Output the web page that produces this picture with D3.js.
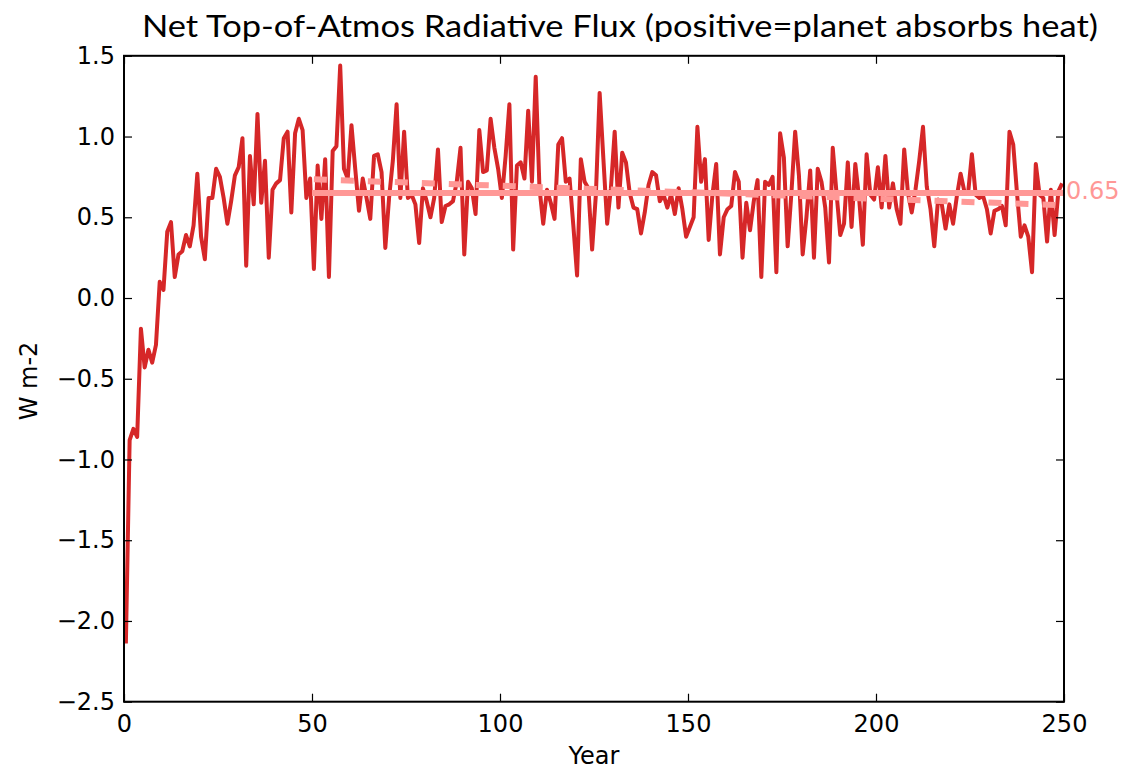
<!DOCTYPE html>
<html>
<head>
<meta charset="utf-8">
<script src="https://cdn.jsdelivr.net/npm/d3@7"></script>
<style>
  body { margin: 0; background: #ffffff; }
  svg { display: block; }
</style>
</head>
<body>
<svg id="chart" width="1123" height="771"></svg>
<script>
// Annual-mean net TOA flux (W m-2), one value per model year
const flux = [
  -2.14, -0.88, -0.81, -0.86, -0.19, -0.43, -0.32, -0.40, -0.29, 0.10,
   0.05,  0.41,  0.47,  0.13,  0.27,  0.29,  0.39,  0.32,  0.45, 0.77,
   0.38,  0.24,  0.62,  0.62,  0.80,  0.75,  0.62,  0.46,  0.60, 0.76,
   0.81,  0.99,  0.20,  0.88,  0.58,  1.14,  0.59,  0.85,  0.25, 0.67,
   0.71,  0.73,  0.99,  1.03,  0.53,  1.02,  1.11,  1.04,  0.62, 0.74,
   0.18,  0.82,  0.49,  0.86,  0.13,  0.91,  0.94,  1.44,  0.80, 0.74,
   1.07,  0.80,  0.54,  0.74,  0.62,  0.49,  0.88,  0.89,  0.78, 0.31,
   0.62,  0.85,  1.20,  0.62,  1.03,  0.62,  0.64,  0.58,  0.34, 0.68,
   0.60,  0.50,  0.62,  0.92,  0.47,  0.57,  0.58,  0.60,  0.72, 0.93,
   0.27,  0.72,  0.68,  0.52,  1.04,  0.78,  0.79,  1.11,  0.93, 0.80,
   0.62,  0.88,  1.20,  0.30,  0.82,  0.84,  0.74,  1.16,  0.72, 1.37,
   0.68,  0.46,  0.67,  0.59,  0.49,  0.95,  0.99,  0.72,  0.74, 0.45,
   0.14,  0.86,  0.72,  0.68,  0.30,  0.64,  1.27,  0.86,  0.46, 0.68,
   1.03,  0.56,  0.90,  0.84,  0.65,  0.56,  0.55,  0.40,  0.53, 0.70,
   0.78,  0.76,  0.60,  0.64,  0.56,  0.64,  0.52,  0.68,  0.55, 0.38,
   0.44,  0.50,  1.06,  0.72,  0.86,  0.36,  0.64,  0.83,  0.27, 0.50,
   0.55,  0.57,  0.78,  0.72,  0.25,  0.59,  0.42,  0.60,  0.73, 0.13,
   0.72,  0.70,  0.75,  0.16,  1.02,  0.87,  0.32,  0.65,  1.03, 0.76,
   0.27,  0.50,  0.79,  0.25,  0.80,  0.72,  0.56,  0.22,  0.93, 0.65,
   0.39,  0.46,  0.84,  0.44,  0.83,  0.62,  0.33,  0.89,  0.64, 0.61,
   0.81,  0.56,  0.88,  0.56,  0.71,  0.55,  0.46,  0.92,  0.65, 0.53,
   0.67,  0.85,  1.06,  0.69,  0.55,  0.32,  0.61,  0.58,  0.43, 0.58,
   0.46,  0.63,  0.77,  0.66,  0.65,  0.89,  0.64,  0.62,  0.63, 0.55,
   0.40,  0.54,  0.55,  0.57,  0.45,  1.03,  0.95,  0.65,  0.38, 0.45,
   0.38,  0.16,  0.83,  0.64,  0.62,  0.35,  0.67,  0.39,  0.66, 0.71
];
// each value sits at the middle of its year
const years = flux.map((_, i) => i + 0.5);

// equilibrated-period mean (years 50-250)
const meanYears = [50, 250];
const meanValue = 0.65;

// linear trend over the same period
const trendYears = [50.5, 249.5];
const trendValues = [0.735, 0.575];

const xTicks = [0, 50, 100, 150, 200, 250];
const yTicks = [1.5, 1.0, 0.5, 0.0, -0.5, -1.0, -1.5, -2.0, -2.5];

const title = "Net Top-of-Atmos Radiative Flux (positive=planet absorbs heat)";
const xLabel = "Year";
const yLabel = "W m-2";

const RED = "#d62728";
const PINK = "#ff9896";

const svg = d3.select("#chart");
svg.append("rect").attr("width", 1123).attr("height", 771).attr("fill", "#ffffff");

const plotLeft = 124, plotRight = 1064, plotTop = 55.8, plotBottom = 701.7;
const x = d3.scaleLinear().domain([0, 250]).range([plotLeft, plotRight]);
const y = d3.scaleLinear().domain([-2.5, 1.5]).range([plotBottom, plotTop]);

const tickFont = "'DejaVu Sans', sans-serif";
const fmt = d3.format(".1f");

// data layers
const plot = svg.append("g");

plot.append("path")
  .datum(flux)
  .attr("fill", "none")
  .attr("stroke", RED)
  .attr("stroke-width", 4)
  .attr("stroke-linejoin", "round")
  .attr("d", d3.line().x((d, i) => x(years[i])).y(d => y(d)));

plot.append("path")
  .datum(trendValues)
  .attr("fill", "none")
  .attr("stroke", PINK)
  .attr("stroke-width", 6)
  .attr("stroke-dasharray", "13,14")
  .attr("d", d3.line().x((d, i) => x(trendYears[i])).y(d => y(d)));

plot.append("path")
  .datum(meanYears)
  .attr("fill", "none")
  .attr("stroke", PINK)
  .attr("stroke-width", 6)
  .attr("d", d3.line().x(d => x(d)).y(() => y(meanValue)));

svg.append("text")
  .attr("x", x(250) + 2)
  .attr("y", y(meanValue) + 6)
  .attr("fill", PINK)
  .attr("font-family", tickFont)
  .attr("font-size", 24)
  .text(d3.format(".2f")(meanValue));

// axes: ticks point inward on all four sides
function styleAxis(g) {
  g.select(".domain").remove();
  g.selectAll(".tick line").attr("stroke", "#000").attr("stroke-width", 1.2);
  g.selectAll(".tick text")
    .attr("fill", "#000")
    .attr("font-family", tickFont)
    .attr("font-size", 24);
}

svg.append("g")
  .attr("transform", `translate(${plotLeft},0)`)
  .call(d3.axisLeft(y).tickValues(yTicks).tickFormat(fmt).tickSizeInner(-8).tickSizeOuter(0).tickPadding(9))
  .call(styleAxis);

svg.append("g")
  .attr("transform", `translate(${plotRight},0)`)
  .call(d3.axisRight(y).tickValues(yTicks).tickFormat("").tickSizeInner(-8).tickSizeOuter(0))
  .call(styleAxis);

svg.append("g")
  .attr("transform", `translate(0,${plotBottom})`)
  .call(d3.axisBottom(x).tickValues(xTicks).tickFormat(d3.format("d")).tickSizeInner(-8).tickSizeOuter(0).tickPadding(13))
  .call(styleAxis);

svg.append("g")
  .attr("transform", `translate(0,${plotTop})`)
  .call(d3.axisTop(x).tickValues(xTicks).tickFormat("").tickSizeInner(-8).tickSizeOuter(0))
  .call(styleAxis);

// frame
svg.append("rect")
  .attr("x", plotLeft).attr("y", plotTop)
  .attr("width", plotRight - plotLeft).attr("height", plotBottom - plotTop)
  .attr("fill", "none")
  .attr("stroke", "#000")
  .attr("stroke-width", 2);

// labels
svg.append("text")
  .attr("x", 142).attr("y", 36.7)
  .attr("font-family", "Lato, 'Open Sans', sans-serif")
  .attr("font-size", 30.5)
  .attr("fill", "#000")
  .attr("textLength", 956)
  .attr("lengthAdjust", "spacingAndGlyphs")
  .text(title);

svg.append("text")
  .attr("x", (plotLeft + plotRight) / 2).attr("y", 764)
  .attr("text-anchor", "middle")
  .attr("font-family", tickFont)
  .attr("font-size", 24)
  .attr("fill", "#000")
  .text(xLabel);

svg.append("text")
  .attr("transform", `translate(36.7,381) rotate(-90)`)
  .attr("text-anchor", "middle")
  .attr("font-family", tickFont)
  .attr("font-size", 24)
  .attr("fill", "#000")
  .text(yLabel);
</script>
</body>
</html>
